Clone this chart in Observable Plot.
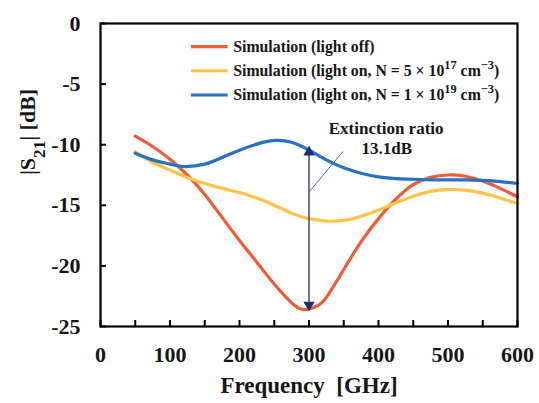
<!DOCTYPE html>
<html>
<head>
<meta charset="utf-8">
<script src="https://cdn.jsdelivr.net/npm/d3@7"></script>
<script src="https://cdn.jsdelivr.net/npm/@observablehq/plot@0.6"></script>
<style>
  html, body { margin: 0; padding: 0; background: #ffffff; }
  #chart svg { display: block; }
</style>
</head>
<body>
<div id="chart"></div>
<script>
// ---- data ----
const seriesNames = [
  "Simulation (light off)",
  "Simulation (light on, N = 5 × 10^{17} cm^{−3})",
  "Simulation (light on, N = 1 × 10^{19} cm^{−3})"
];
const seriesColors = ["#ef5d38", "#fcc447", "#2671c2"];

const redFreq = [50, 75, 100, 125, 150, 175, 200, 225, 250, 275, 292, 310, 325, 350, 375, 400, 425, 450, 475, 500, 525, 550, 575, 600];
const redS21  = [-9.3, -10.15, -11.2, -12.5, -14.1, -16.0, -17.9, -19.7, -21.5, -23.05, -23.6, -23.35, -22.6, -20.3, -18.0, -16.1, -14.5, -13.3, -12.7, -12.5, -12.6, -13.0, -13.6, -14.3];

const yellowFreq = [50, 75, 100, 125, 150, 175, 200, 225, 250, 275, 300, 325, 350, 375, 400, 425, 450, 475, 500, 525, 550, 575, 600];
const yellowS21  = [-10.6, -11.45, -12.1, -12.7, -13.2, -13.6, -13.95, -14.4, -15.0, -15.65, -16.1, -16.3, -16.25, -15.9, -15.4, -14.8, -14.25, -13.85, -13.7, -13.75, -14.0, -14.4, -14.85];

const blueFreq = [50, 75, 100, 120, 150, 175, 200, 225, 250, 275, 300, 325, 350, 375, 400, 425, 450, 475, 500, 525, 550, 575, 600];
const blueS21  = [-10.7, -11.25, -11.6, -11.8, -11.6, -11.05, -10.45, -9.95, -9.65, -9.8, -10.45, -11.25, -11.9, -12.35, -12.65, -12.8, -12.85, -12.9, -12.9, -12.9, -12.95, -13.05, -13.2];

const xTickLabels = [0, 100, 200, 300, 400, 500, 600];
const xMinorTicks = [50, 150, 250, 350, 450, 550];
const yTickLabels = [0, -5, -10, -15, -20, -25];

// annotation values
const extinctionFreq = 300;
const extinctionTop = -10.3;
const extinctionBottom = -23.55;
const extinctionText = ["Extinction ratio", "13.1dB"];

// legend layout (in data units)
const legendX1 = 130, legendX2 = 183, legendTextX = 191;
const legendRows = [-1.9, -3.9, -5.9];

// ---- build tables ----
const mk = (fs, vs, s) => fs.map((f, i) => ({freq: f, s21: vs[i], series: s}));
const curves = [
  ...mk(redFreq, redS21, seriesNames[0]),
  ...mk(yellowFreq, yellowS21, seriesNames[1]),
  ...mk(blueFreq, blueS21, seriesNames[2])
];
const legend = seriesNames.map((n, i) => ({name: n, y: legendRows[i], color: seriesColors[i]}));

const FONT = "'Liberation Serif', 'Times New Roman', serif";
const INK = "#161616";

const chart = Plot.plot({
  width: 539,
  height: 403,
  marginLeft: 100,
  marginRight: 22,
  marginTop: 23,
  marginBottom: 77,
  style: {background: "#ffffff", fontFamily: FONT},
  x: {domain: [0, 600]},
  y: {domain: [-25, 0]},
  color: {domain: seriesNames, range: seriesColors},
  marks: [
    // curves
    Plot.line(curves, {x: "freq", y: "s21", z: "series", stroke: "series", strokeWidth: 3.2, curve: "natural"}),
    // extinction arrow
    Plot.ruleX([extinctionFreq], {y1: extinctionTop, y2: extinctionBottom, stroke: "#1d2f6e", strokeWidth: 1.3}),
    Plot.dot([{f: extinctionFreq, v: extinctionTop}], {x: "f", y: "v", symbol: "triangle", r: 4.2, fill: "#1d2f6e", dy: 4}),
    Plot.dot([{f: extinctionFreq, v: extinctionBottom}], {x: "f", y: "v", symbol: "triangle", r: 4.2, fill: "#1d2f6e", rotate: 180, dy: -4}),
    Plot.link([{x1: extinctionFreq, y1: -13.9, x2: 349, y2: -10.55}], {x1: "x1", y1: "y1", x2: "x2", y2: "y2", stroke: "#4b6fae", strokeWidth: 1}),
    Plot.text([extinctionText[0]], {x: 411, y: -8.7, fontSize: 17, fontWeight: "bold", fill: INK}),
    Plot.text([extinctionText[1]], {x: 412, y: -10.35, fontSize: 17, fontWeight: "bold", fill: INK}),
    // legend
    Plot.link(legend, {x1: legendX1, x2: legendX2, y1: "y", y2: "y", stroke: "color", strokeWidth: 3.2}),
    Plot.text(legend, {x: legendTextX, y: "y", text: "name", textAnchor: "start", fontSize: 15.8, fontWeight: "bold", fill: INK}),
    // frame
    Plot.frame({stroke: "#000", strokeWidth: 2.2}),
    // inward ticks
    Plot.axisX([...xTickLabels, ...xMinorTicks], {tickSize: -6, strokeWidth: 2, stroke: "#000", tickFormat: () => ""}),
    Plot.axisY(yTickLabels, {tickSize: -6, strokeWidth: 2, stroke: "#000", tickFormat: () => ""}),
    // tick labels
    Plot.axisX(xTickLabels, {tickSize: 0, tickPadding: 20, fontSize: 22, fontWeight: "bold", fill: INK, label: null}),
    Plot.axisY(yTickLabels, {tickSize: 0, tickPadding: 20, fontSize: 22, fontWeight: "bold", fill: INK, label: null, tickFormat: d => d === 0 ? "0" : "-" + Math.abs(d)}),
    // axis titles
    Plot.text(["Frequency  [GHz]"], {frameAnchor: "bottom", dy: 66, fontSize: 23, fontWeight: "bold", fill: INK}),
    Plot.text(["|S_{21}| [dB]"], {frameAnchor: "left", dx: -73, rotate: -90, fontSize: 22, fontWeight: "bold", fill: INK})
  ]
});

// turn ^{..} / _{..} markup into real superscript / subscript tspans
d3.select(chart).selectAll("text").each(function () {
  const t = this.textContent;
  if (!/[\^_]\{/.test(t)) return;
  const el = d3.select(this);
  el.text(null);
  const re = /([\^_])\{([^}]*)\}/g;
  let last = 0, m;
  while ((m = re.exec(t))) {
    if (m.index > last) el.append("tspan").text(t.slice(last, m.index));
    el.append("tspan")
      .attr("baseline-shift", m[1] === "^" ? "super" : "sub")
      .attr("font-size", "78%")
      .text(m[2]);
    last = re.lastIndex;
  }
  if (last < t.length) el.append("tspan").text(t.slice(last));
});

document.getElementById("chart").appendChild(chart);
</script>
</body>
</html>
